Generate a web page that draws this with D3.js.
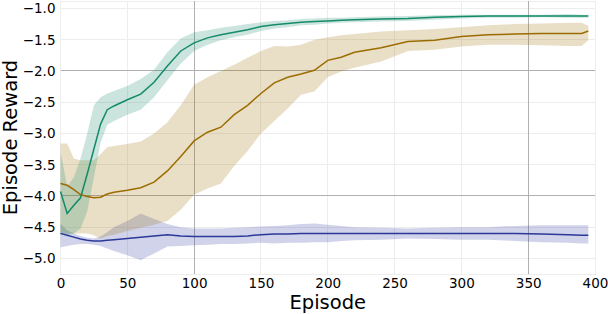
<!DOCTYPE html>
<html>
<head>
<meta charset="utf-8">
<script src="https://cdn.jsdelivr.net/npm/d3@7"></script>
<style>
  body { margin: 0; background: #fff; }
  text { font-family: "DejaVu Sans", sans-serif; fill: #000; }
</style>
</head>
<body>
<div id="chart"></div>
<script>
// Datos
const episodes = [0,5,10,15,20,25,30,35,40,50,60,70,80,90,100,110,120,130,140,150,160,170,180,190,200,210,220,240,260,280,300,320,340,360,380,390,395]

const greenMean = [-3.93,-4.28,-4.15,-4.03,-3.65,-3.25,-2.85,-2.62,-2.56,-2.46,-2.37,-2.18,-1.92,-1.68,-1.55,-1.47,-1.42,-1.38,-1.34,-1.29,-1.26,-1.24,-1.22,-1.21,-1.20,-1.19,-1.18,-1.17,-1.16,-1.14,-1.13,-1.12,-1.12,-1.12,-1.12,-1.12,-1.12]
const greenHi = [-3.30,-3.85,-3.70,-3.40,-3.00,-2.55,-2.42,-2.36,-2.32,-2.24,-2.13,-1.98,-1.70,-1.48,-1.38,-1.35,-1.31,-1.28,-1.25,-1.22,-1.20,-1.19,-1.17,-1.16,-1.15,-1.15,-1.14,-1.13,-1.12,-1.11,-1.10,-1.10,-1.10,-1.10,-1.09,-1.10,-1.10]
const greenLo = [-4.62,-4.62,-4.60,-4.52,-4.25,-3.70,-3.15,-2.86,-2.80,-2.70,-2.62,-2.42,-2.15,-1.88,-1.68,-1.58,-1.51,-1.46,-1.42,-1.36,-1.32,-1.30,-1.27,-1.26,-1.24,-1.23,-1.22,-1.21,-1.20,-1.18,-1.16,-1.15,-1.15,-1.14,-1.15,-1.15,-1.15]

const brownMean = [-3.80,-3.83,-3.90,-3.98,-4.01,-4.03,-4.02,-3.97,-3.94,-3.91,-3.87,-3.78,-3.60,-3.37,-3.12,-2.98,-2.90,-2.70,-2.55,-2.36,-2.19,-2.10,-2.05,-1.99,-1.83,-1.78,-1.70,-1.63,-1.53,-1.51,-1.45,-1.42,-1.41,-1.40,-1.40,-1.40,-1.36]
const brownHi = [-3.16,-3.16,-3.40,-3.43,-3.43,-3.43,-3.33,-3.22,-3.20,-3.17,-3.13,-3.00,-2.82,-2.55,-2.22,-2.10,-2.00,-1.90,-1.79,-1.68,-1.60,-1.61,-1.58,-1.50,-1.46,-1.43,-1.41,-1.37,-1.35,-1.33,-1.30,-1.27,-1.25,-1.24,-1.23,-1.23,-1.28]
const brownLo = [-4.58,-4.60,-4.60,-4.60,-4.60,-4.63,-4.68,-4.64,-4.62,-4.56,-4.51,-4.46,-4.40,-4.22,-3.98,-3.88,-3.80,-3.52,-3.28,-3.00,-2.80,-2.60,-2.38,-2.33,-2.10,-2.01,-1.95,-1.85,-1.68,-1.66,-1.61,-1.58,-1.58,-1.59,-1.60,-1.60,-1.51]

const blueMean = [-4.60,-4.63,-4.66,-4.69,-4.71,-4.72,-4.72,-4.71,-4.70,-4.68,-4.66,-4.64,-4.62,-4.64,-4.65,-4.65,-4.65,-4.65,-4.64,-4.62,-4.61,-4.61,-4.60,-4.60,-4.60,-4.60,-4.60,-4.60,-4.60,-4.60,-4.60,-4.60,-4.60,-4.61,-4.62,-4.63,-4.63]
const blueHi = [-4.45,-4.55,-4.60,-4.64,-4.67,-4.68,-4.65,-4.58,-4.50,-4.40,-4.28,-4.37,-4.45,-4.50,-4.52,-4.52,-4.52,-4.51,-4.50,-4.49,-4.48,-4.47,-4.45,-4.44,-4.46,-4.48,-4.50,-4.51,-4.52,-4.51,-4.50,-4.50,-4.48,-4.47,-4.47,-4.47,-4.47]
const blueLo = [-4.82,-4.80,-4.78,-4.77,-4.77,-4.78,-4.80,-4.84,-4.88,-4.95,-5.03,-4.92,-4.81,-4.80,-4.79,-4.78,-4.77,-4.77,-4.76,-4.75,-4.76,-4.75,-4.75,-4.74,-4.74,-4.72,-4.71,-4.70,-4.68,-4.69,-4.70,-4.70,-4.72,-4.74,-4.75,-4.76,-4.76]

const xTicks = [0,50,100,150,200,250,300,350,400]
const yTicks = [-5.0,-4.5,-4.0,-3.5,-3.0,-2.5,-2.0,-1.5,-1.0]
const xStrong = [100,350]
const yStrong = [-4.0,-2.0]

const series = [
  {name: "blue", color: "#2b3899", mean: blueMean, hi: blueHi, lo: blueLo},
  {name: "brown", color: "#9c6c00", mean: brownMean, hi: brownHi, lo: brownLo},
  {name: "green", color: "#148a69", mean: greenMean, hi: greenHi, lo: greenLo}
]

// Constantes
const width = 608
const height = 314
const margins = {top: 1, bottom: 40, left: 60.5, right: 13}

const svg = d3.select("#chart").append("svg").attr("width", width).attr("height", height)

const x = d3.scaleLinear().domain([0, 400]).range([margins.left, width - margins.right])
const y = d3.scaleLinear().domain([-5.25, -0.88]).range([height - margins.bottom, margins.top])

// Rejilla
const grid = svg.append("g").attr("shape-rendering", "crispEdges")
grid.selectAll(".vg").data(xTicks).enter().append("line")
  .attr("x1", d => x(d)).attr("x2", d => x(d))
  .attr("y1", y.range()[0]).attr("y2", y.range()[1])
  .attr("stroke", "#ededed")
grid.selectAll(".hg").data(yTicks).enter().append("line")
  .attr("y1", d => y(d)).attr("y2", d => y(d))
  .attr("x1", x.range()[0]).attr("x2", x.range()[1])
  .attr("stroke", "#ededed")
grid.append("rect")
  .attr("x", x.range()[0]).attr("y", y.range()[1])
  .attr("width", x.range()[1] - x.range()[0]).attr("height", y.range()[0] - y.range()[1])
  .attr("fill", "none").attr("stroke", "#ededed")
grid.selectAll(".vs").data(xStrong).enter().append("line")
  .attr("x1", d => x(d)).attr("x2", d => x(d))
  .attr("y1", y.range()[0]).attr("y2", y.range()[1])
  .attr("stroke", "#b0b0b0")
grid.selectAll(".hs").data(yStrong).enter().append("line")
  .attr("y1", d => y(d)).attr("y2", d => y(d))
  .attr("x1", x.range()[0]).attr("x2", x.range()[1])
  .attr("stroke", "#b0b0b0")

// Bandas
const area = d3.area()
  .x((d, i) => x(episodes[i]))
  .y0(d => y(d[0]))
  .y1(d => y(d[1]))
const line = d3.line()
  .x((d, i) => x(episodes[i]))
  .y(d => y(d))

const plot = svg.append("g")
series.forEach(s => {
  plot.append("path")
    .datum(s.lo.map((v, i) => [v, s.hi[i]]))
    .attr("d", area)
    .attr("fill", s.color)
    .attr("fill-opacity", 0.22)
})
series.forEach(s => {
  plot.append("path")
    .datum(s.mean)
    .attr("d", line)
    .attr("fill", "none")
    .attr("stroke", s.color)
    .attr("stroke-width", 1.5)
})

// Ejes
const xAxis = d3.axisBottom(x).tickValues(xTicks).tickSize(0).tickPadding(4).tickFormat(d3.format("d"))
const yAxis = d3.axisLeft(y).tickValues(yTicks).tickSize(0).tickPadding(5).tickFormat(d => d3.format(".1f")(d).replace("-", "\u2212"))

const gx = svg.append("g").attr("transform", `translate(0,${y.range()[0]})`).call(xAxis)
const gy = svg.append("g").attr("transform", `translate(${x.range()[0]},0)`).call(yAxis)
;[gx, gy].forEach(g => {
  g.select(".domain").remove()
  g.selectAll("text").attr("font-family", "DejaVu Sans").attr("font-size", 13.5).attr("fill", "#000")
})

svg.append("text")
  .attr("x", (x.range()[0] + x.range()[1]) / 2)
  .attr("y", 309)
  .attr("text-anchor", "middle")
  .attr("font-size", 19.5)
  .text("Episode")

svg.append("text")
  .attr("transform", `translate(16.5,${(y.range()[0] + y.range()[1]) / 2}) rotate(-90)`)
  .attr("text-anchor", "middle")
  .attr("font-size", 19.5)
  .text("Episode Reward")
</script>
</body>
</html>
